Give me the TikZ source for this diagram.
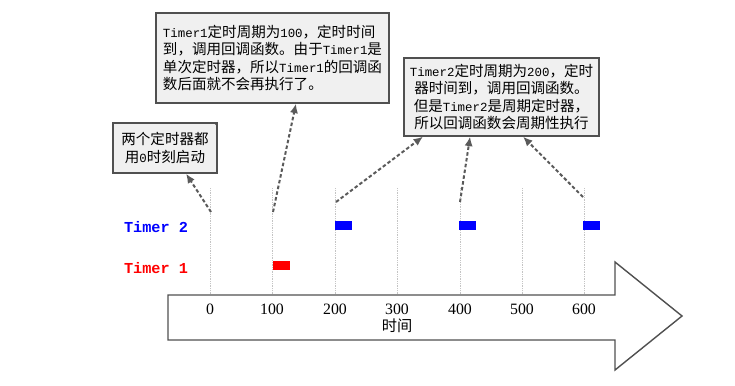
\documentclass[tikz,border=0pt]{standalone}
\usepackage{fontspec}
\setmainfont{Noto Sans CJK SC}
\newfontfamily\latfont{Liberation Mono}
\newfontfamily\numfont{Liberation Serif}
\usepackage{xcolor}
\usetikzlibrary{arrows.meta, calc}
\definecolor{boxgray}{HTML}{F0F0F0}
\definecolor{edgegray}{HTML}{505050}
\definecolor{arrowgray}{HTML}{5A5A5A}
\definecolor{gridgray}{HTML}{C4C4C4}
\newcommand{\lat}[1]{{\latfont\fontsize{10.6}{15}\selectfont #1}}

\begin{document}
\begin{tikzpicture}[
    x=0.03cm, y=-0.03cm,
    every node/.style={inner sep=0pt},
    notebox/.style={rectangle, draw=edgegray, line width=1.2pt, fill=boxgray, font=\fontsize{12.4}{15}\selectfont},
    callout/.style={draw=arrowgray, line width=1.7pt, dash pattern=on 3pt off 2pt, -{Latex[length=8pt,width=7pt]}},
    gridline/.style={draw=gridgray, densely dotted, line width=0.5pt},
    timerlabel/.style={font=\latfont\fontsize{13}{15}\bfseries},
    ticklabel/.style={font=\numfont\fontsize{13.5}{15}\selectfont}
]
    \useasboundingbox (0,0) rectangle (735,385);

    % time grid
    \foreach \x in {210,272,335,397,460,522,584}
        \draw[gridline] (\x,188) -- (\x,295);

    % time axis
    \draw[draw=edgegray, line width=1.2pt, fill=white]
        (168,295) -- (615,295) -- (615,262) -- (682,316) -- (615,370) -- (615,340) -- (168,340) -- cycle;
    \foreach \x/\t [count=\i] in {210/0,272/100,335/200,397/300,460/400,522/500,584/600}
        \node[ticklabel] (tick\i) at (\x,309) {\t};
    \node[font=\fontsize{13}{15}\selectfont] (axislabel) at (397,326) {时间};

    % timers
    \node[timerlabel, text=blue] (timer2) at (156,227) {Timer 2};
    \node[timerlabel, text=red] (timer1) at (156,268) {Timer 1};
    \foreach \x in {335,459,583}
        \fill[blue] (\x,221) rectangle (\x+17,230);
    \fill[red] (273,261) rectangle (290,270);

    % notes
    \node[notebox, minimum width=6.99cm, minimum height=2.7cm, align=left] (oneshot) at (272.5,58)
        {\lat{Timer1}定时周期为\lat{100}，定时时间\\到，调用回调函数。由于\lat{Timer1}是\\单次定时器，所以\lat{Timer1}的回调函\\数后面就不会再执行了。};
    \node[notebox, minimum width=3.12cm, minimum height=1.5cm, align=center] (start) at (165,148)
        {两个定时器都\\用\lat{0}时刻启动};
    \draw[edgegray, line width=0.6pt] ([xshift=-3.5pt]start.north east) -- ([yshift=-3.5pt]start.north east);
    \node[notebox, minimum width=5.85cm, minimum height=2.34cm, align=center] (periodic) at (501.5,97)
        {\lat{Timer2}定时周期为\lat{200}，定时\\器时间到，调用回调函数。\\但是\lat{Timer2}是周期定时器，\\所以回调函数会周期性执行};

    % callouts
    \coordinate (t0) at (211,212);
    \coordinate (t1) at (273,212);
    \coordinate (t2) at (336,202);
    \coordinate (t4) at (460,202);
    \coordinate (t6) at (583,197);
    \draw[callout] (t0) -- ($(start.south west)!0.7!(start.south east)$);
    \draw[callout] (t1) -- ($(oneshot.south west)!0.6!(oneshot.south east)$);
    \draw[callout] (t2) -- ($(periodic.south west)!0.1!(periodic.south east)$);
    \draw[callout] (t4) -- ($(periodic.south west)!0.34!(periodic.south east)$);
    \draw[callout] (t6) -- ($(periodic.south west)!0.61!(periodic.south east)$);
\end{tikzpicture}
\end{document}
